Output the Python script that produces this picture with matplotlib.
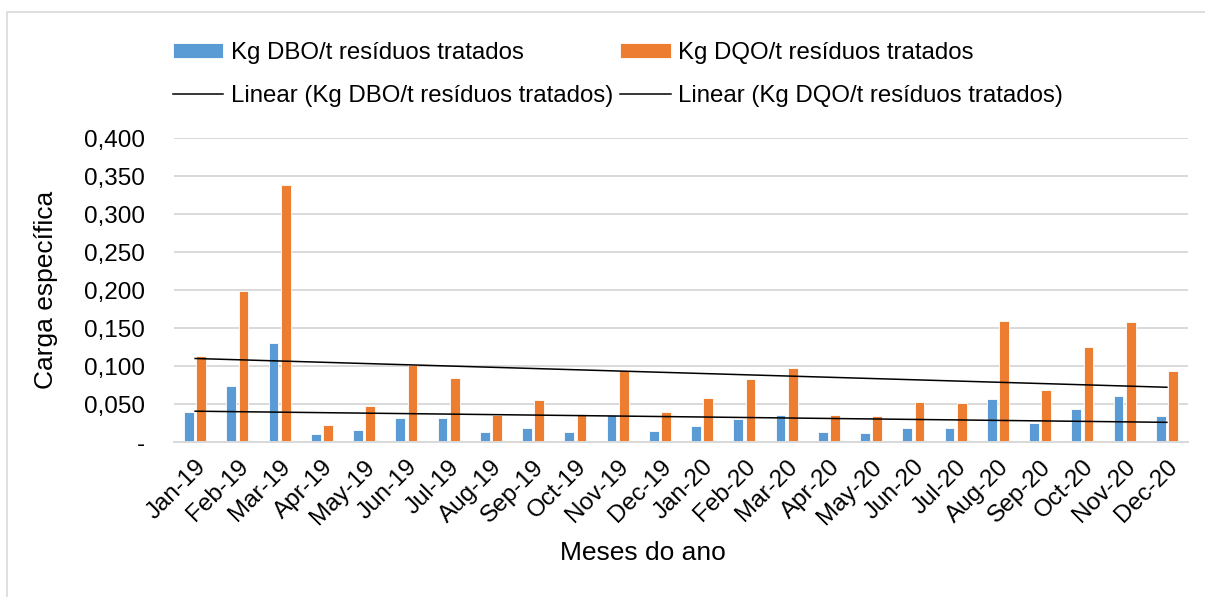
import numpy as np
import matplotlib
matplotlib.use("Agg")
import matplotlib.pyplot as plt
from matplotlib.patches import Rectangle

plt.rcParams['font.family'] = ['Liberation Sans', 'DejaVu Sans']

months = ['Jan-19', 'Feb-19', 'Mar-19', 'Apr-19', 'May-19', 'Jun-19', 'Jul-19', 'Aug-19',
          'Sep-19', 'Oct-19', 'Nov-19', 'Dec-19', 'Jan-20', 'Feb-20', 'Mar-20', 'Apr-20',
          'May-20', 'Jun-20', 'Jul-20', 'Aug-20', 'Sep-20', 'Oct-20', 'Nov-20', 'Dec-20']
dbo = [0.040, 0.074, 0.130, 0.010, 0.016, 0.032, 0.032, 0.013,
       0.019, 0.013, 0.035, 0.015, 0.021, 0.030, 0.035, 0.013,
       0.012, 0.019, 0.018, 0.056, 0.025, 0.044, 0.061, 0.034]
dqo = [0.113, 0.199, 0.338, 0.023, 0.048, 0.101, 0.084, 0.036,
       0.055, 0.037, 0.095, 0.039, 0.058, 0.083, 0.097, 0.036,
       0.034, 0.052, 0.051, 0.159, 0.068, 0.125, 0.158, 0.094]
yticks = [0.0, 0.05, 0.10, 0.15, 0.20, 0.25, 0.30, 0.35, 0.40]
ytick_labels = ['-', '0,050', '0,100', '0,150', '0,200', '0,250', '0,300', '0,350', '0,400']

blue = '#5B9BD5'
orange = '#ED7D31'
grid = '#d9d9d9'

fig = plt.figure(figsize=(12.05, 5.97), dpi=100)
ax = fig.add_axes([174 / 1205, 1 - 442 / 597, 1014 / 1205, 304 / 597])

# chart border
fig.patches.append(Rectangle((7 / 1205, -0.05), 1.05, 1 - 12 / 597 + 0.05,
                             transform=fig.transFigure, fill=False,
                             edgecolor=grid, linewidth=1.2, zorder=0))

x = np.arange(len(months))
w = 0.23
b1 = ax.bar(x - 0.145, dbo, w, color=blue, edgecolor='white', linewidth=0.6, zorder=2,
            label='Kg DBO/t resíduos tratados')
b2 = ax.bar(x + 0.145, dqo, w, color=orange, edgecolor='white', linewidth=0.6, zorder=2,
            label='Kg DQO/t resíduos tratados')

# linear trendlines (least squares, like Excel)
t = np.arange(1, len(months) + 1)
p1 = np.polyfit(t, dbo, 1)
p2 = np.polyfit(t, dqo, 1)
l1, = ax.plot(x, np.polyval(p1, t), color='black', linewidth=1.1, zorder=3,
              label='Linear (Kg DBO/t resíduos tratados)')
l2, = ax.plot(x, np.polyval(p2, t), color='black', linewidth=1.1, zorder=3,
              label='Linear (Kg DQO/t resíduos tratados)')

ax.set_xlim(-0.5, len(months) - 0.5)
ax.set_ylim(0, 0.4)
ax.set_yticks(yticks)
ax.set_yticklabels(ytick_labels)
ax.set_xticks(x)
ax.set_xticklabels(months, rotation=45, ha='right', rotation_mode='anchor')
ax.tick_params(axis='y', length=0, pad=21, labelsize=17.5)
ax.tick_params(axis='x', length=0, pad=10, labelsize=17.5)
ax.yaxis.grid(True, color=grid, linewidth=1.4, zorder=0)
ax.set_axisbelow(True)
for s in ['top', 'right', 'left']:
    ax.spines[s].set_visible(False)
ax.spines['bottom'].set_color(grid)
ax.spines['bottom'].set_linewidth(1.4)

ax.set_ylabel('Carga específica', fontsize=19)
ax.yaxis.set_label_coords(-0.114, 0.5)
ax.set_xlabel('Meses do ano', fontsize=19)
ax.xaxis.set_label_coords((643 - 174) / 1014, -0.365)
ax.xaxis.label.set_va('center')

fig.legend([b1, l1, b2, l2],
           [h.get_label() for h in [b1, l1, b2, l2]],
           ncol=2, loc='upper left', bbox_to_anchor=(173 / 1205, 1 - 42 / 597),
           frameon=False, fontsize=17.3, handlelength=2.1, handleheight=0.6,
           handletextpad=0.3, columnspacing=0.3, labelspacing=0.88,
           borderaxespad=0, borderpad=0)

fig.savefig('out.png', dpi=100)
